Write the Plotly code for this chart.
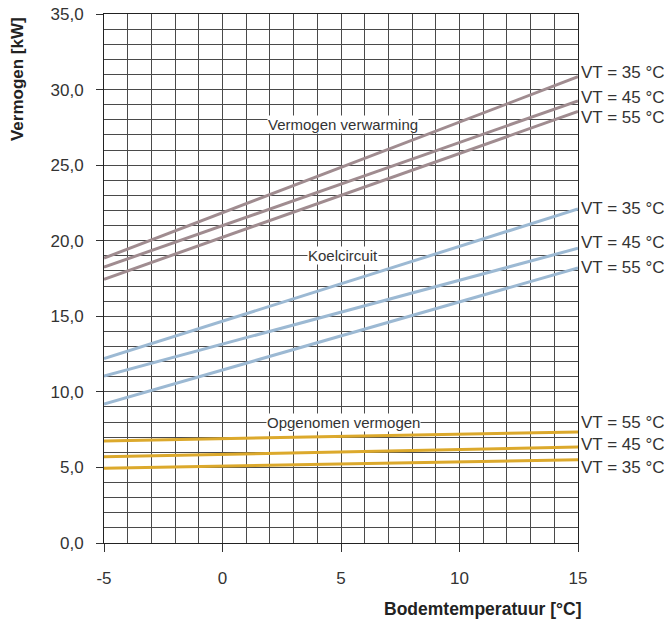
import plotly.graph_objects as go

x = [-5, 15]
heat_35 = [18.85, 30.85]
heat_45 = [18.25, 29.25]
heat_55 = [17.45, 28.55]
cool_35 = [12.2, 22.1]
cool_45 = [11.05, 19.5]
cool_55 = [9.2, 18.2]
pow_55 = [6.75, 7.35]
pow_45 = [5.7, 6.35]
pow_35 = [4.95, 5.5]

heat_color = "#a08c90"
cool_color = "#9cb9d3"
pow_color = "#dca92c"

x_ticks = [-5, 0, 5, 10, 15]
x_tick_text = ["-5", "0", "5", "10", "15"]
y_ticks = [0, 5, 10, 15, 20, 25, 30, 35]

right_labels = [
    ("VT = 35 °C", 31.1), ("VT = 45 °C", 29.45), ("VT = 55 °C", 28.15),
    ("VT = 35 °C", 22.1), ("VT = 45 °C", 19.9), ("VT = 55 °C", 18.2),
    ("VT = 55 °C", 8.0), ("VT = 45 °C", 6.55), ("VT = 35 °C", 5.0),
]
group_labels = [
    ("Vermogen verwarming", 5.1, 27.7),
    ("Koelcircuit", 5.1, 19.05),
    ("Opgenomen vermogen", 5.1, 8.0),
]

fig = go.Figure()
for ys, c in [(heat_35, heat_color), (heat_45, heat_color), (heat_55, heat_color),
              (cool_35, cool_color), (cool_45, cool_color), (cool_55, cool_color),
              (pow_55, pow_color), (pow_45, pow_color), (pow_35, pow_color)]:
    fig.add_trace(go.Scatter(x=x, y=ys, mode="lines", line=dict(color=c, width=3),
                             showlegend=False, hoverinfo="skip"))

font = "Liberation Sans"
txt_color = "#333"
for txt, yv in right_labels:
    fig.add_annotation(x=15, y=yv, xref="x", yref="y", text=txt, showarrow=False,
                       xanchor="left", xshift=1, font=dict(family=font, size=17, color=txt_color))
for txt, xv, yv in group_labels:
    fig.add_annotation(x=xv, y=yv, xref="x", yref="y", text=txt, showarrow=False,
                       bgcolor="white", borderpad=0,
                       font=dict(family=font, size=15, color=txt_color))

grid_color = "#4a4a4a"
fig.update_layout(
    width=664, height=617,
    margin=dict(l=96, r=94, t=6, b=82),
    plot_bgcolor="white", paper_bgcolor="white",
    separators=",.",
    font=dict(family=font, size=17, color=txt_color),
    xaxis=dict(range=[-5, 15], tickvals=x_ticks, ticktext=x_tick_text,
               showgrid=True, gridcolor=grid_color, gridwidth=1,
               zeroline=False, showline=True, linecolor="#222", linewidth=1,
               ticks="outside", ticklen=8, tickcolor="#333",
               ticklabelstandoff=12, automargin=False, ticklabeloverflow="allow",
               minor=dict(dtick=1, showgrid=True, gridcolor=grid_color, gridwidth=1),
               mirror=True),
    yaxis=dict(range=[0, 35], tickvals=y_ticks, tickformat=".1f",
               showgrid=True, gridcolor=grid_color, gridwidth=1,
               zeroline=False, showline=True, linecolor="#222", linewidth=1,
               ticks="outside", ticklen=7, tickcolor="#333",
               ticklabelstandoff=9, automargin=False, ticklabeloverflow="allow",
               minor=dict(dtick=1, showgrid=True, gridcolor=grid_color, gridwidth=1),
               mirror=True),
)
fig.add_annotation(x=0.0, y=0.877, xref="paper", yref="paper", text="<b>Vermogen [kW]</b>",
                   textangle=-90, showarrow=False, xanchor="center", yanchor="middle", xshift=-87,
                   font=dict(family=font, size=17, color="#222"))
fig.add_annotation(x=1.0, y=0, xref="paper", yref="paper", text="<b>Bodemtemperatuur [°C]</b>",
                   showarrow=False, xanchor="right", yanchor="top", yshift=-54, xshift=6,
                   font=dict(family=font, size=17.5, color="#222"))

fig.write_html("out.html")
